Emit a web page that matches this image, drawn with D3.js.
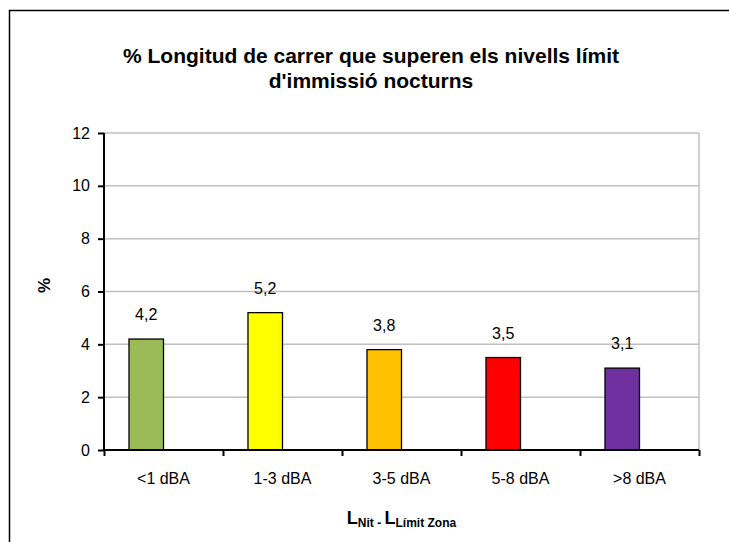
<!DOCTYPE html>
<html>
<head>
<meta charset="utf-8">
<script src="https://cdn.jsdelivr.net/npm/d3@7"></script>
<style>
  body { margin: 0; background: #fff; }
  text { font-family: "Liberation Sans", Arial, sans-serif; }
</style>
</head>
<body>
<div id="chart"></div>
<script>
// chart data
var categories = ["<1 dBA", "1-3 dBA", "3-5 dBA", "5-8 dBA", ">8 dBA"];
var values = [4.2, 5.2, 3.8, 3.5, 3.1];
var labels = ["4,2", "5,2", "3,8", "3,5", "3,1"];
var barColors = ["#9bbb59", "#ffff00", "#ffc000", "#ff0000", "#7030a0"];
var yTicks = [0, 2, 4, 6, 8, 10, 12];

var W = 729, H = 542;
var margin = { top: 133, left: 104, right: 30, bottom: 92 },
    width = W - margin.left - margin.right,
    height = H - margin.top - margin.bottom;

var root = d3.select("#chart")
  .append("svg")
  .attr("width", W)
  .attr("height", H);

// outer chart border (only left and top visible)
root.append("rect")
  .attr("x", 9.5).attr("y", 10.5)
  .attr("width", 760).attr("height", 560)
  .attr("fill", "none")
  .attr("stroke", "#000")
  .attr("stroke-width", 1.5);

// title
var title = root.append("text")
  .attr("text-anchor", "middle")
  .attr("font-weight", "bold")
  .attr("font-size", 21)
  .attr("fill", "#000");
title.append("tspan").attr("x", 371).attr("y", 63).text("% Longitud de carrer que superen els nivells límit");
title.append("tspan").attr("x", 371).attr("y", 88).text("d'immissió nocturns");

var svg = root.append("g")
  .attr("transform", "translate(" + margin.left + "," + margin.top + ")");

var xScale = d3.scaleBand()
  .domain(categories)
  .range([0, width]);

var yScale = d3.scaleLinear()
  .domain([0, 12])
  .range([height, 0]);

var barW = xScale.bandwidth() * 0.29;

// gridlines
svg.selectAll(".grid")
  .data(yTicks.slice(1))
  .enter().append("line")
  .attr("class", "grid")
  .attr("x1", 0).attr("x2", width)
  .attr("y1", function(d) { return yScale(d); })
  .attr("y2", function(d) { return yScale(d); })
  .attr("stroke", "#c0c0c0")
  .attr("stroke-width", 1.5);

// right edge of plot area
svg.append("line")
  .attr("x1", width).attr("x2", width)
  .attr("y1", 0).attr("y2", height)
  .attr("stroke", "#c0c0c0")
  .attr("stroke-width", 1.5);

// bars (offset left like a two-series column chart with an empty 2nd series)
svg.selectAll(".bar")
  .data(values)
  .enter().append("rect")
  .attr("class", "bar")
  .attr("x", function(d, i) { return xScale(categories[i]) + xScale.bandwidth() / 2 - barW; })
  .attr("y", function(d) { return yScale(d); })
  .attr("width", barW)
  .attr("height", function(d) { return height - yScale(d); })
  .attr("fill", function(d, i) { return barColors[i]; })
  .attr("stroke", "#000")
  .attr("stroke-width", 1.3);

// value labels
svg.selectAll(".lbl")
  .data(values)
  .enter().append("text")
  .attr("class", "lbl")
  .attr("x", function(d, i) { return xScale(categories[i]) + xScale.bandwidth() / 2 - barW / 2; })
  .attr("y", function(d) { return yScale(d) - 19; })
  .attr("text-anchor", "middle")
  .attr("font-size", 16)
  .attr("fill", "#000")
  .text(function(d, i) { return labels[i]; });

// axes
var yAxis = d3.axisLeft(yScale).tickValues(yTicks).tickSize(6).tickPadding(8);
var gy = svg.append("g").attr("class", "axis y-axis").call(yAxis);

var xAxis = d3.axisBottom(d3.scaleLinear().domain([0, 5]).range([0, width]))
  .ticks(5).tickSize(6).tickFormat("");
var gx = svg.append("g")
  .attr("class", "axis x-axis")
  .attr("transform", "translate(0," + height + ")")
  .call(xAxis);

svg.selectAll(".axis path, .axis line").attr("stroke", "#000").attr("stroke-width", 2);
gy.select(".domain").attr("d", "M0,0V" + height);
gx.select(".domain").attr("d", "M0,0H" + width);
gy.selectAll("text").attr("font-size", 16).attr("font-family", "Liberation Sans, Arial, sans-serif").attr("fill", "#000");

// category labels
svg.selectAll(".cat")
  .data(categories)
  .enter().append("text")
  .attr("class", "cat")
  .attr("x", function(d) { return xScale(d) + xScale.bandwidth() / 2; })
  .attr("y", height + 34)
  .attr("text-anchor", "middle")
  .attr("font-size", 16)
  .attr("fill", "#000")
  .text(function(d) { return d; });

// y title
svg.append("text")
  .attr("transform", "translate(" + (-54) + "," + (height / 2 - 6) + ") rotate(-90)")
  .attr("text-anchor", "middle")
  .attr("font-weight", "bold")
  .attr("font-size", 17)
  .text("%");

// x title with subscripts
var xt = svg.append("text")
  .attr("x", width / 2)
  .attr("y", height + 74)
  .attr("text-anchor", "middle")
  .attr("font-weight", "bold")
  .attr("font-size", 18);
xt.append("tspan").text("L");
xt.append("tspan").attr("font-size", 12).attr("dy", 3).text("Nit - ");
xt.append("tspan").attr("dy", -3).text("L");
xt.append("tspan").attr("font-size", 12).attr("dy", 3).text("Límit Zona");
</script>
</body>
</html>
